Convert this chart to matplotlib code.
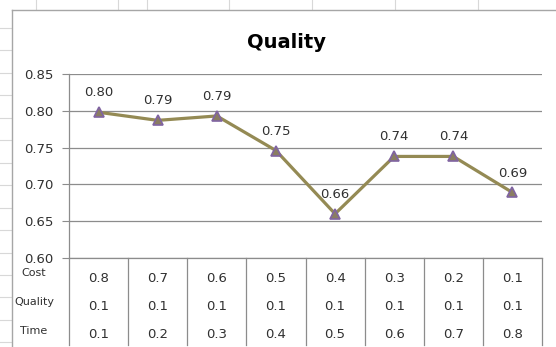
import matplotlib
matplotlib.use("Agg")
import matplotlib.pyplot as plt
import numpy as np
from matplotlib.lines import Line2D
from matplotlib.transforms import blended_transform_factory

# data
quality = [0.798, 0.787, 0.793, 0.746, 0.660, 0.738, 0.738, 0.689]
cost_w = ["0.8", "0.7", "0.6", "0.5", "0.4", "0.3", "0.2", "0.1"]
quality_w = ["0.1", "0.1", "0.1", "0.1", "0.1", "0.1", "0.1", "0.1"]
time_w = ["0.1", "0.2", "0.3", "0.4", "0.5", "0.6", "0.7", "0.8"]
row_names = ["Cost", "Quality", "Time"]
yticks = [0.60, 0.65, 0.70, 0.75, 0.80, 0.85]

W, H = 556, 347
LINE = "#948A54"
GRID = "#8C8C8C"

plt.rcParams["font.family"] = ["DejaVu Sans"]
fig = plt.figure(figsize=(W / 100, H / 100), dpi=100)


def fx(px):
    return px / W


def fy(py):
    return 1 - py / H


# spreadsheet background: cell ticks + chart frame
for k in range(15):
    y = 28 + 22.45 * k
    fig.add_artist(Line2D([0, fx(11)], [fy(y), fy(y)], color="#D8D8D8", lw=0.8))
for x in [36, 118, 147, 229, 312, 395, 478]:
    fig.add_artist(Line2D([fx(x), fx(x)], [1, fy(9)], color="#D8D8D8", lw=0.8))
fig.add_artist(Line2D([fx(12), fx(12)], [fy(10), 0], color="#A6A6A6", lw=1.0))
fig.add_artist(Line2D([fx(12), 1], [fy(10), fy(10)], color="#A6A6A6", lw=1.0))

ax = fig.add_axes([fx(69), fy(258), (542 - 69) / W, (258 - 74) / H])
x = np.arange(len(quality))
ax.plot(x, quality, color=LINE, lw=2.3, marker="^", markersize=6.5,
        markerfacecolor="#8A7D62", markeredgecolor="#8064A2", markeredgewidth=1.2,
        zorder=5)
for xi, v in zip(x, quality):
    ax.annotate(f"{v:.2f}", (xi, v), xytext=(0, 14), textcoords="offset points",
                ha="center", va="center", fontsize=9.5, color="#303030")

ax.set_xlim(-0.5, len(quality) - 0.5)
ax.set_ylim(0.60, 0.85)
ax.set_yticks(yticks)
ax.set_yticklabels([f"{t:.2f}" for t in yticks], fontsize=9.5, color="#303030")
ax.set_xticks([])
ax.grid(axis="y", color=GRID, lw=0.9)
ax.set_axisbelow(True)
for s in ["top", "right"]:
    ax.spines[s].set_visible(False)
for s in ["left", "bottom"]:
    ax.spines[s].set_color(GRID)
    ax.spines[s].set_linewidth(0.9)
ax.tick_params(axis="y", length=5, color=GRID, pad=6)

# data table under the axis
tr = blended_transform_factory(ax.transData, fig.transFigure)
for i in range(len(quality) + 1):
    ax.plot([i - 0.5, i - 0.5], [fy(258), fy(345)], transform=tr,
            color=GRID, lw=0.9, clip_on=False)
for row, ypx in zip([cost_w, quality_w, time_w], [278, 306, 334]):
    for xi, txt in zip(x, row):
        ax.text(xi, fy(ypx), txt, transform=tr, ha="center", va="center",
                fontsize=9.5, color="#303030")
for name, ypx in zip(row_names, [273, 302, 331]):
    fig.text(fx(34), fy(ypx), name, ha="center", va="center", fontsize=8,
             color="#303030")

fig.text(fx(286), fy(42), "Quality", ha="center", va="center",
         fontsize=14, fontweight="bold", color="black")

fig.savefig("out.png", dpi=100)
